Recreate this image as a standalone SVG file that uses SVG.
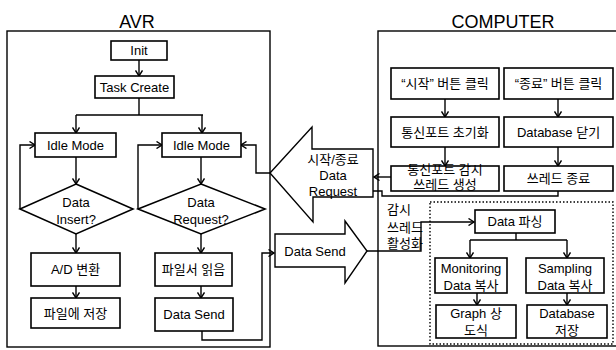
<svg xmlns="http://www.w3.org/2000/svg" width="616" height="350" viewBox="0 0 616 350">
<style>
.box{fill:#fff;stroke:#000;stroke-width:1.6}
.frame{fill:none;stroke:#000;stroke-width:1.4}
.dot{fill:none;stroke:#000;stroke-width:1.4;stroke-dasharray:1.5 2}
.big{fill:#fff;stroke:#000;stroke-width:1.4}
.ln{fill:none;stroke:#000;stroke-width:1.4}
.arr{fill:none;stroke:#000;stroke-width:1.4;marker-end:url(#ah)}
text{font-family:"Liberation Sans","Noto Sans CJK KR",sans-serif;font-size:13px;fill:#000;text-anchor:middle}
.title{font-size:18px}
.lt{text-anchor:start}
</style>
<defs>
<marker id="ah" markerWidth="8" markerHeight="8" refX="6.5" refY="4" orient="auto" markerUnits="userSpaceOnUse">
<path d="M1,0.5 L6.5,4 L1,7.5" fill="none" stroke="#000" stroke-width="1.4"/>
</marker>
</defs>
<rect fill="#fff" width="616" height="350"/>

<g id="avr-frame">
<rect class="frame" x="7" y="31" width="263" height="316"/>
<text class="title" x="137" y="28">AVR</text>
</g>
<g id="computer-frame">
<rect class="frame" x="378" y="31" width="250" height="315"/>
<text class="title" x="503" y="28">COMPUTER</text>
</g>

<g id="connectors">
<path class="arr" d="M139,60 V76"/>
<path class="ln" d="M139,98 V115 M76,115 H203"/>
<path class="arr" d="M76,115 V133"/>
<path class="arr" d="M202,115 V133"/>
<path class="arr" d="M76,157 V184"/>
<path class="arr" d="M201,157 V184"/>
<path class="arr" d="M20,209 V145 H35"/>
<path class="arr" d="M138,209 V145 H162"/>
<path class="arr" d="M76,234 V253"/>
<path class="arr" d="M76,286 V298"/>
<path class="arr" d="M201,234 V253"/>
<path class="arr" d="M201,286 V298"/>
<path class="arr" d="M202,331 V340 H262 V253 H274"/>
<path class="arr" d="M270,173 H256 V145 H241"/>
<path class="arr" d="M445,99 V117"/>
<path class="arr" d="M445,147 V166"/>
<path class="arr" d="M558,99 V117"/>
<path class="arr" d="M558,147 V166"/>
<path class="arr" d="M391,177 H374"/>
<path class="arr" d="M558,191 V196 H382 V191 H364"/>
<path class="arr" d="M367,251 H421 V222 H474"/>
<path class="ln" d="M516,233 V240 M470,240 H567"/>
<path class="arr" d="M470,240 V258"/>
<path class="arr" d="M567,240 V258"/>
<path class="arr" d="M477,293 V305"/>
<path class="arr" d="M567,293 V305"/>
</g>

<g id="init"><rect class="box" x="111" y="41" width="56" height="19"/><text x="139" y="55">Init</text></g>
<g id="task-create"><rect class="box" x="95" y="76" width="79" height="22"/><text x="134.5" y="92">Task Create</text></g>
<g id="idle-left"><rect class="box" x="35" y="133" width="81" height="24"/><text x="75.5" y="150">Idle Mode</text></g>
<g id="idle-right"><rect class="box" x="162" y="133" width="79" height="24"/><text x="201.5" y="150">Idle Mode</text></g>
<g id="data-insert"><polygon class="box" points="76,184 133,209 76,234 20,209"/><text x="76" y="207">Data</text><text x="76" y="224">Insert?</text></g>
<g id="data-request"><polygon class="box" points="201,184 265,209 201,234 138,209"/><text x="201" y="207">Data</text><text x="201" y="224">Request?</text></g>
<g id="ad"><rect class="box" x="31" y="253" width="89" height="33"/><text x="75.5" y="274">A/D 변환</text></g>
<g id="save-file"><rect class="box" x="31" y="298" width="89" height="30"/><text x="75.5" y="318">파일에 저장</text></g>
<g id="read-file"><rect class="box" x="155" y="253" width="77" height="33"/><text x="193.5" y="274">파일서 읽음</text></g>
<g id="data-send-box"><rect class="box" x="155" y="298" width="78" height="33"/><text x="194" y="319">Data Send</text></g>

<g id="arrow-request"><polygon class="big" points="270,173 312,127 312,149 373,149 373,197 313,197 313,222"/>
<text x="333" y="164">시작/종료</text><text x="333" y="180">Data</text><text x="333" y="196">Request</text></g>
<g id="arrow-send"><polygon class="big" points="275,234 345,234 345,221 367,251 345,283 345,267 275,267"/>
<text x="315" y="256">Data Send</text></g>

<g id="start-click"><rect class="box" x="391" y="68" width="108" height="31"/><text x="445" y="88">“시작” 버튼 클릭</text></g>
<g id="end-click"><rect class="box" x="504" y="68" width="109" height="31"/><text x="558.5" y="88">“종료” 버튼 클릭</text></g>
<g id="port-init"><rect class="box" x="391" y="117" width="108" height="30"/><text x="445" y="137">통신포트 초기화</text></g>
<g id="db-close"><rect class="box" x="504" y="117" width="109" height="30"/><text x="558.5" y="137">Database 닫기</text></g>
<g id="thread-create"><rect class="box" x="391" y="166" width="108" height="25"/><text x="445" y="174">통신포트 감시</text><text x="445" y="189">쓰레드 생성</text></g>
<g id="thread-end"><rect class="box" x="504" y="166" width="109" height="25"/><text x="558.5" y="183">쓰레드 종료</text></g>

<g id="activate-label"><text class="lt" x="387" y="214">감시</text><text class="lt" x="387" y="232">쓰레드</text><text class="lt" x="387" y="248">활성화</text></g>
<g id="dotted-frame"><rect class="dot" x="430" y="202" width="183" height="142"/></g>

<g id="parse"><rect class="box" x="475" y="210" width="80" height="23"/><text x="515" y="226">Data 파싱</text></g>
<g id="monitor-copy"><rect class="box" x="435" y="258" width="72" height="35"/><text x="471" y="273">Monitoring</text><text x="471" y="290">Data 복사</text></g>
<g id="sampling-copy"><rect class="box" x="526" y="258" width="78" height="35"/><text x="565" y="273">Sampling</text><text x="565" y="290">Data 복사</text></g>
<g id="graph"><rect class="box" x="436" y="305" width="80" height="33"/><text x="476" y="318">Graph 상</text><text x="476" y="335">도식</text></g>
<g id="db-save"><rect class="box" x="527" y="305" width="80" height="33"/><text x="567" y="318">Database</text><text x="567" y="335">저장</text></g>
</svg>
